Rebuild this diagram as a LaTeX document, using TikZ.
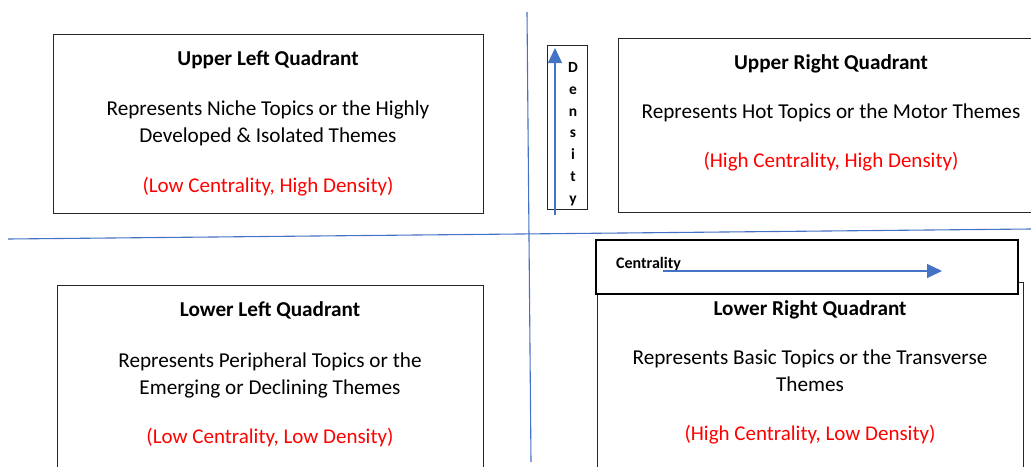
\documentclass[tikz,border=0pt]{standalone}
\usepackage{fontspec}
\setmainfont{Carlito}
\usetikzlibrary{arrows.meta}
\definecolor{axisblue}{HTML}{4472C4}
\definecolor{qred}{HTML}{FF0000}
\tikzset{
  qbox/.style={draw=black!85, line width=0.9pt},
  cbox/.style={draw=black, line width=2.4pt},
  axisline/.style={draw=axisblue, line width=1.1pt},
  axisarrow/.style={draw=axisblue, line width=1.1pt, -{Triangle[length=15pt,width=14pt]}, color=axisblue},
  qtitle/.style={font=\fontsize{21.2}{25}\selectfont\bfseries, anchor=base},
  qbody/.style={font=\fontsize{21.2}{27}\selectfont, align=center, anchor=base},
  qred/.style={font=\fontsize{21}{25}\selectfont, text=qred, anchor=base},
}
\begin{document}
\begin{tikzpicture}[x=1pt,y=-1pt]
\useasboundingbox (0,0) rectangle (1031,466);
\clip (0,0) rectangle (1031,466);
% axes
\coordinate (vtop) at (527,12);
\coordinate (vbot) at (531,462);
\coordinate (hleft) at (8,239);
\coordinate (hright) at (1031,229);
\draw[axisline] (vtop) -- (vbot);
\draw[axisline] (hleft) -- (hright);
% quadrant boxes
\node[qbox, minimum width=430pt, minimum height=179pt, anchor=north west, inner sep=0pt] (ul) at (53,34) {};
\node[qbox, minimum width=420pt, minimum height=174pt, anchor=north west, inner sep=0pt] (ur) at (618,38) {};
\node[qbox, minimum width=426pt, minimum height=190pt, anchor=north west, inner sep=0pt] (ll) at (57,285) {};
\node[qbox, minimum width=426pt, minimum height=190pt, anchor=north west, inner sep=0pt] (lr) at (597,282) {};
% centrality box
\node[cbox, fill=white, minimum width=422pt, minimum height=54pt, anchor=north west, inner sep=0pt] (cb) at (595,239) {};
\node[font=\fontsize{16}{18}\selectfont\bfseries, anchor=base west, inner sep=0pt] (ctext) at (616,268) {Centrality};
\coordinate (cstart) at (663,271);
\coordinate (cend) at (942,271);
\draw[axisarrow] (cstart) -- (cend);
% density box
\node[qbox, minimum width=40pt, minimum height=164pt, anchor=north west, inner sep=0pt] (db) at (547,45) {};
\coordinate (dstart) at (555,215);
\coordinate (dend) at (555,48);
\draw[axisarrow] (dstart) -- (dend);
\node[font=\fontsize{15.5}{21.7}\selectfont\bfseries, align=center, inner sep=0pt, anchor=base] (dtext) at (573,203) {D\\e\\n\\s\\i\\t\\y};
% texts UL
\node[qtitle] (ult) at (268,65) {Upper Left Quadrant};
\node[qbody] (ulb) at (268,142) {Represents Niche Topics or the Highly\\Developed \& Isolated Themes};
\node[qred] (ulr) at (268,192) {(Low Centrality, High Density)};
% UR
\node[qtitle] (urt) at (831,69) {Upper Right Quadrant};
\node[qbody] (urb) at (831,118) {Represents Hot Topics or the Motor Themes};
\node[qred] (urr) at (831,167) {(High Centrality, High Density)};
% LL
\node[qtitle] (llt) at (270,316) {Lower Left Quadrant};
\node[qbody] (llb) at (270,394) {Represents Peripheral Topics or the\\Emerging or Declining Themes};
\node[qred] (llr) at (270,443) {(Low Centrality, Low Density)};
% LR
\node[qtitle] (lrt) at (810,315) {Lower Right Quadrant};
\node[qbody] (lrb) at (810,391) {Represents Basic Topics or the Transverse\\Themes};
\node[qred] (lrr) at (810,440) {(High Centrality, Low Density)};
\end{tikzpicture}
\end{document}
